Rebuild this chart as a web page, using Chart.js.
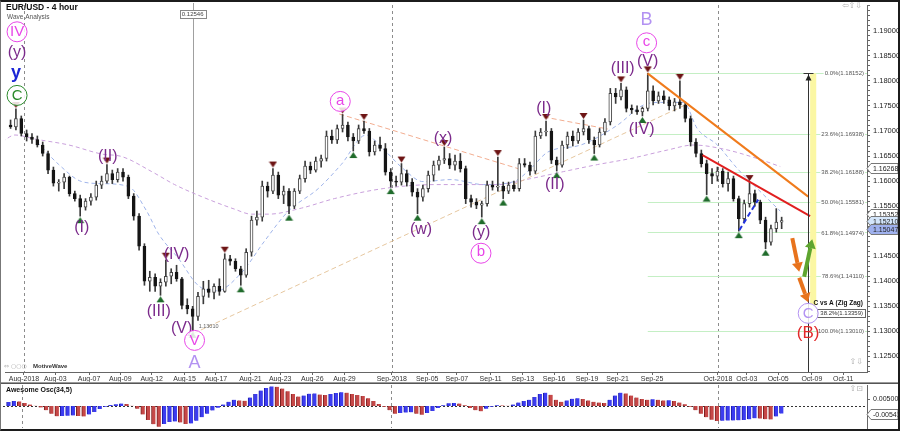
<!DOCTYPE html>
<html><head><meta charset="utf-8">
<script src="https://cdn.jsdelivr.net/npm/chart.js@4.4.1/dist/chart.umd.min.js"></script>
<style>
html,body{margin:0;padding:0;background:#fff;}
#wrap{position:relative;width:900px;height:431px;overflow:hidden;background:#fff;}
#c1{position:absolute;left:0;top:0;}
#c2{position:absolute;left:0;top:384px;}
#frame{position:absolute;left:0;top:0;width:897px;height:427px;border-top:2px solid #1c1c1c;border-right:2px solid #1c1c1c;border-bottom:2px solid #1c1c1c;border-left:1px solid #777;pointer-events:none;}
</style></head>
<body><div id="wrap"><canvas id="c1" width="900" height="384"></canvas><canvas id="c2" width="900" height="46"></canvas><div id="frame"></div></div>
<script>
// ---------------- DATA ----------------
const tickDays=[0,1.95,4.05,6,7.95,10,11.95,14.1,15.95,17.95,19.95,22.9,25.1,26.95,29.05,31.05,33,35.05,36.95,39.1,43.2,45,46.95,49.05,51];
const tickLabels=['Aug-2018','Aug-03','Aug-07','Aug-09','Aug-12','Aug-15','Aug-17','Aug-21','Aug-23','Aug-26','Aug-29','Sep-2018','Sep-05','Sep-07','Sep-11','Sep-13','Sep-16','Sep-19','Sep-21','Sep-25','Oct-2018','Oct-03','Oct-05','Oct-09','Oct-11'];
const monthStartDays=[0,22.9,43.2];

const open=[1.1712,1.1708,1.1725,1.1695,1.1688,1.1683,1.1672,1.1655,1.1622,1.1596,
1.1598,1.1608,1.1575,1.1565,1.1548,1.1560,1.1568,1.1592,1.1600,1.1615,
1.1603,1.1618,1.1608,1.1570,1.1530,1.1470,1.1400,1.1408,1.1390,1.1398,
1.1410,1.1418,1.1405,1.1352,1.1345,1.1330,1.1370,1.1385,1.1378,1.1390,
1.1380,1.1445,1.1440,1.1425,1.1412,1.1458,1.1522,1.1528,1.1590,1.1580,
1.1612,1.1572,1.1580,1.1550,1.1580,1.1605,1.1630,1.1622,1.1640,1.1645,
1.1690,1.1682,1.1705,1.1712,1.1688,1.1680,1.1705,1.1700,1.1658,1.1672,
1.1665,1.1618,1.1600,1.1598,1.1615,1.1598,1.1578,1.1568,1.1585,1.1612,
1.1632,1.1642,1.1645,1.1632,1.1640,1.1625,1.1565,1.1558,1.1552,1.1555,
1.1592,1.1588,1.1590,1.1580,1.1592,1.1585,1.1635,1.1632,1.1620,1.1690,
1.1698,1.1700,1.1642,1.1632,1.1672,1.1690,1.1680,1.1698,1.1705,1.1682,
1.1672,1.1698,1.1718,1.1775,1.1768,1.1782,1.1745,1.1742,1.1738,1.1745,
1.1780,1.1760,1.1770,1.1762,1.1750,1.1758,1.1752,1.1725,1.1678,1.1655,
1.1635,1.1615,1.1610,1.1620,1.1595,1.1605,1.1565,1.1525,1.1555,1.1575,
1.1558,1.1522,1.1478,1.1505,1.1518];
const high=[1.1722,1.1744,1.1730,1.1702,1.1695,1.1690,1.1678,1.1660,1.1628,1.1603,
1.1615,1.1610,1.1580,1.1572,1.1565,1.1575,1.1600,1.1610,1.1633,1.1622,
1.1625,1.1625,1.1612,1.1575,1.1535,1.1475,1.1420,1.1415,1.1405,1.1443,
1.1425,1.1432,1.1408,1.1365,1.1350,1.1378,1.1400,1.1402,1.1395,1.1405,
1.1455,1.1452,1.1445,1.1430,1.1465,1.1530,1.1540,1.1600,1.1598,1.1625,
1.1618,1.1590,1.1585,1.1585,1.1612,1.1640,1.1638,1.1648,1.1652,1.1700,
1.1702,1.1712,1.1733,1.1718,1.1695,1.1712,1.1720,1.1705,1.1680,1.1688,
1.1675,1.1625,1.1610,1.1635,1.1622,1.1605,1.1585,1.1592,1.1620,1.1640,
1.1650,1.1668,1.1655,1.1652,1.1655,1.1630,1.1572,1.1565,1.1560,1.1600,
1.1600,1.1648,1.1598,1.1598,1.1600,1.1645,1.1645,1.1638,1.1700,1.1705,
1.1720,1.1705,1.1648,1.1680,1.1698,1.1700,1.1705,1.1722,1.1710,1.1688,
1.1705,1.1725,1.1785,1.1785,1.1795,1.1788,1.1752,1.1750,1.1748,1.1815,
1.1790,1.1778,1.1780,1.1768,1.1765,1.1800,1.1758,1.1730,1.1685,1.1662,
1.1642,1.1625,1.1628,1.1625,1.1618,1.1610,1.1570,1.1562,1.1598,1.1582,
1.1562,1.1528,1.1512,1.1545,1.1528];
const low=[1.1705,1.1702,1.1690,1.1680,1.1675,1.1668,1.1650,1.1615,1.1590,1.1580,
1.1585,1.1570,1.1560,1.1530,1.1542,1.1552,1.1562,1.1585,1.1596,1.1595,
1.1598,1.1600,1.1565,1.1522,1.1462,1.1392,1.1380,1.1380,1.1372,1.1390,
1.1395,1.1400,1.1345,1.1335,1.1301,1.1322,1.1355,1.1368,1.1365,1.1372,
1.1378,1.1432,1.1420,1.1392,1.1408,1.1450,1.1512,1.1520,1.1568,1.1575,
1.1565,1.1555,1.1535,1.1545,1.1575,1.1598,1.1615,1.1618,1.1628,1.1640,
1.1675,1.1675,1.1698,1.1680,1.1660,1.1675,1.1695,1.1650,1.1652,1.1660,
1.1612,1.1588,1.1590,1.1592,1.1590,1.1570,1.1535,1.1560,1.1578,1.1600,
1.1622,1.1635,1.1625,1.1622,1.1618,1.1555,1.1548,1.1545,1.1528,1.1550,
1.1582,1.1580,1.1565,1.1575,1.1580,1.1580,1.1628,1.1612,1.1615,1.1685,
1.1690,1.1635,1.1620,1.1628,1.1665,1.1670,1.1675,1.1692,1.1675,1.1655,
1.1668,1.1692,1.1712,1.1755,1.1762,1.1738,1.1735,1.1733,1.1730,1.1740,
1.1752,1.1755,1.1755,1.1742,1.1740,1.1745,1.1718,1.1670,1.1648,1.1628,
1.1573,1.1595,1.1600,1.1588,1.1580,1.1560,1.1500,1.1518,1.1548,1.1550,
1.1515,1.1465,1.1472,1.1498,1.1505];
const close=[1.1708,1.1725,1.1695,1.1688,1.1683,1.1672,1.1655,1.1622,1.1596,1.1598,
1.1608,1.1575,1.1565,1.1548,1.1560,1.1568,1.1592,1.1600,1.1615,1.1603,
1.1618,1.1608,1.1570,1.1530,1.1470,1.1400,1.1408,1.1390,1.1398,1.1410,
1.1418,1.1405,1.1352,1.1345,1.1330,1.1370,1.1385,1.1378,1.1390,1.1380,
1.1445,1.1440,1.1425,1.1412,1.1458,1.1522,1.1528,1.1590,1.1580,1.1612,
1.1572,1.1580,1.1550,1.1580,1.1605,1.1630,1.1622,1.1640,1.1645,1.1690,
1.1682,1.1705,1.1712,1.1688,1.1680,1.1705,1.1700,1.1658,1.1672,1.1665,
1.1618,1.1600,1.1598,1.1615,1.1598,1.1578,1.1568,1.1585,1.1612,1.1632,
1.1642,1.1645,1.1632,1.1640,1.1625,1.1565,1.1558,1.1552,1.1555,1.1592,
1.1588,1.1590,1.1580,1.1592,1.1585,1.1635,1.1632,1.1620,1.1690,1.1698,
1.1700,1.1642,1.1632,1.1672,1.1690,1.1680,1.1698,1.1705,1.1682,1.1672,
1.1698,1.1718,1.1775,1.1768,1.1782,1.1745,1.1742,1.1738,1.1745,1.1780,
1.1760,1.1770,1.1762,1.1750,1.1758,1.1752,1.1725,1.1678,1.1655,1.1635,
1.1615,1.1610,1.1620,1.1595,1.1605,1.1565,1.1525,1.1555,1.1575,1.1558,
1.1522,1.1478,1.1505,1.1518,1.1521];
const ao=[0.0028,0.0035,0.0033,0.0022,0.0010,0.0002,-0.0010,-0.0030,-0.0055,-0.0074,
-0.0072,-0.0070,-0.0068,-0.0071,-0.0075,-0.0060,-0.0042,-0.0022,-0.0005,0.0008,
0.0013,0.0018,0.0014,0.0002,-0.0020,-0.0060,-0.0100,-0.0130,-0.0148,-0.0128,
-0.0115,-0.0110,-0.0118,-0.0128,-0.0125,-0.0105,-0.0080,-0.0055,-0.0032,-0.0012,
0.0010,0.0030,0.0045,0.0040,0.0037,0.0060,0.0085,0.0110,0.0128,0.0140,
0.0137,0.0125,0.0105,0.0085,0.0068,0.0075,0.0088,0.0090,0.0082,0.0078,
0.0085,0.0092,0.0098,0.0095,0.0085,0.0078,0.0072,0.0055,0.0035,0.0015,
-0.0005,-0.0030,-0.0055,-0.0050,-0.0047,-0.0045,-0.0055,-0.0062,-0.0050,-0.0035,
-0.0015,0.0005,0.0020,0.0022,0.0018,0.0005,-0.0015,-0.0030,-0.0038,-0.0020,
-0.0005,0.0005,0.0004,0.0002,0.0010,0.0025,0.0035,0.0045,0.0065,0.0085,
0.0095,0.0080,0.0045,0.0030,0.0040,0.0052,0.0055,0.0050,0.0040,0.0030,
0.0025,0.0022,0.0045,0.0075,0.0095,0.0090,0.0075,0.0060,0.0050,0.0045,
0.0048,0.0045,0.0040,0.0042,0.0035,0.0025,0.0012,-0.0005,-0.0030,-0.0055,
-0.0080,-0.0098,-0.0107,-0.0105,-0.0104,-0.0103,-0.0102,-0.0100,-0.0095,-0.0088,
-0.0090,-0.0094,-0.0096,-0.0075,-0.0054];

const maFastDays=[0.81,2.17,3.60,4.84,6.52,7.64,8.39,9.63,10.87,11.99,13.54,14.97,16.46,18.32,19.75,21.30,22.36,23.60,24.84,26.58,28.63,30.50,31.55,32.61,34.66,36.96,38.57,39.63,41.06,41.93,43.17,44.41,45.65,47.08];
const maFastVals=[1.1678,1.1633,1.1599,1.1595,1.1589,1.1540,1.1494,1.1445,1.1391,1.1381,1.1417,1.1480,1.1540,1.1585,1.1633,1.1692,1.1664,1.1625,1.1599,1.1603,1.1593,1.1599,1.1625,1.1658,1.1672,1.1712,1.1752,1.1757,1.1757,1.1704,1.1672,1.1625,1.1585,1.1540];
const maSlowDays=[-1.37,-0.56,0.68,2.80,4.84,6.09,7.95,9.38,11.06,13.11,14.16,15.22,17.27,19.32,22.36,25.65,29.50,31.55,33.60,35.71,37.76,40.06,41.68,43.54,45.65,47.08];
const maSlowVals=[1.1678,1.1692,1.1684,1.1672,1.1654,1.1649,1.1619,1.1593,1.1569,1.1544,1.1534,1.1534,1.1546,1.1565,1.1585,1.1593,1.1593,1.1605,1.1619,1.1633,1.1645,1.1662,1.1672,1.1664,1.1645,1.1629];

const pivotHighBars=[1,18,29,40,49,62,66,73,81,91,100,107,114,119,125,138];
const pivotLowBars=[13,28,34,43,52,64,71,76,88,92,102,109,118,130,136,141];

const fibLevels=[1.18152,1.16938,1.16188,1.15581,1.14974,1.14110,1.13010];
const fibNames=['0.0%','23.6%','38.2%','50.0%','61.8%','78.6%','100.0%'];
const targetName='38.2%', targetLevel=1.13359;
const priceTags=[1.16268,1.15352,1.15210,1.15047];
const aoTag=-0.00541;
const cursorValue='0.12546';

// trend lines [day1, price1, day2, price2]
const trendOrange=[38.82,1.1815,48.82,1.1569];
const trendRed=[42.24,1.1652,48.94,1.1530];
const trendBlueDash=[44.53,1.1502,45.71,1.1563];
const channelTan=[10.56,1.1296,41.24,1.1753];
const channelOrange1=[19.63,1.1734,30.75,1.1625];
const channelOrange2=[32.36,1.1728,36.34,1.1704];
const projDay=48.82;
const bandDays=[48.94,49.32];
const bandBottom=1.1352;
const arrowsOrange=[[47.83,1.1486,48.26,1.1419],[48.26,1.1407,48.82,1.1358]];
const arrowsGreen=[[48.57,1.1409,49.07,1.1484]];

// wave labels [text, day, price, kind]
const waveLabels=[
 ['IV',-0.43,1.1898,'circM'],['(y)',-0.43,1.1856,'rom'],['y',-0.5,1.1811,'blue'],['C',-0.43,1.1771,'circG'],
 ['(I)',3.6,1.1508,'rom'],['(II)',5.22,1.1649,'rom'],['(III)',8.39,1.1340,'rom'],['(IV)',9.5,1.1454,'rom'],
 ['(V)',9.81,1.1306,'rom'],['V',10.62,1.1282,'circM'],['A',10.62,1.1237,'big'],
 ['a',19.69,1.1759,'circM'],['(x)',26.09,1.1684,'rom'],['(w)',24.72,1.1504,'rom'],
 ['(y)',28.45,1.1498,'rom'],['b',28.45,1.1456,'circM'],
 ['(I)',32.36,1.1744,'rom'],['(II)',33.04,1.1593,'rom'],['(III)',37.27,1.1825,'rom'],
 ['(V)',38.82,1.1839,'rom'],['(IV)',38.45,1.1702,'rom'],['B',38.76,1.1922,'big'],['c',38.76,1.1876,'circM'],
 ['C',48.82,1.1336,'circL'],['(B)',48.82,1.1296,'red']
];

// ---------------- HELPERS ----------------
const X_MIN=-1.18, X_MAX=52.48, Y_MIN=1.12189, Y_MAX=1.19515;
const FONT="'Liberation Sans', Arial, sans-serif";
Chart.defaults.font.family=FONT;
function barDay(b){return -1+(b+0.5)/3;}
const aLowBar=34, fibStartBar=119;
function noPad(s){s.paddingTop=0;s.paddingBottom=0;s.paddingLeft=0;s.paddingRight=0;}

function triImg(down){
  const c=document.createElement('canvas');c.width=9;c.height=24;
  const g=c.getContext('2d');
  g.fillStyle=down?'#6d1414':'#1f6b2b';
  g.beginPath();
  if(down){g.moveTo(0.5,5);g.lineTo(8.5,5);g.lineTo(4.5,11);}
  else{g.moveTo(4.5,13);g.lineTo(8.5,19);g.lineTo(0.5,19);}
  g.closePath();g.fill();return c;
}
const downTri=triImg(true), upTri=triImg(false);

function seg(arr){return [{x:arr[0],y:arr[1]},{x:arr[2],y:arr[3]}];}
function lineDs(data,color,width,dash,order){
  return {type:'line',data:data,borderColor:color,borderWidth:width,borderDash:dash||[],pointRadius:0,fill:false,order:order,tension:0,clip:true};
}

function arrow(ctx,x1,y1,x2,y2,color){
  const ang=Math.atan2(y2-y1,x2-x1), L=9, W=5.5;
  const bx=x2-L*Math.cos(ang), by=y2-L*Math.sin(ang);
  ctx.strokeStyle=color;ctx.fillStyle=color;ctx.lineWidth=4;ctx.lineCap='butt';
  ctx.beginPath();ctx.moveTo(x1,y1);ctx.lineTo(bx,by);ctx.stroke();
  ctx.beginPath();ctx.moveTo(x2,y2);
  ctx.lineTo(bx+W*Math.sin(ang),by-W*Math.cos(ang));
  ctx.lineTo(bx-W*Math.sin(ang),by+W*Math.cos(ang));
  ctx.closePath();ctx.fill();
  ctx.lineWidth=1;
}

function tag(ctx,y,text,fill,stroke,txtColor){
  ctx.lineWidth=1;
  ctx.beginPath();
  ctx.moveTo(867,y);ctx.lineTo(871,y-5);ctx.lineTo(898,y-5);ctx.lineTo(898,y+5);ctx.lineTo(871,y+5);ctx.closePath();
  ctx.fillStyle=fill;ctx.fill();ctx.strokeStyle=stroke;ctx.stroke();
  ctx.fillStyle=txtColor;ctx.font='7px '+FONT;ctx.textAlign='left';ctx.textBaseline='middle';
  ctx.fillText(text,873,y+0.5);
}

// ---------------- MAIN CHART PLUGIN ----------------
const mainPlugin={
  id:'mainAnnot',
  beforeDatasetsDraw(chart){
    const {ctx,chartArea:a,scales:{x,y}}=chart;
    const X=v=>x.getPixelForValue(v), Y=v=>y.getPixelForValue(v);
    ctx.save();
    ctx.beginPath();ctx.rect(a.left,a.top-2,a.right-a.left,a.bottom-a.top+2);ctx.clip();
    ctx.lineWidth=1;ctx.strokeStyle='#8c8c8c';ctx.setLineDash([3,3]);
    monthStartDays.forEach(d=>{const p=Math.round(X(d))+0.5;ctx.beginPath();ctx.moveTo(p,a.top);ctx.lineTo(p,a.bottom);ctx.stroke();});
    ctx.setLineDash([]);
    const ax=Math.round(X(barDay(aLowBar)))+0.5;
    ctx.strokeStyle='#a0a0a0';ctx.beginPath();ctx.moveTo(ax,a.top-2);ctx.lineTo(ax,Y(low[aLowBar])+6);ctx.stroke();
    ctx.strokeStyle='#c4efc4';
    fibLevels.forEach(l=>{const p=Math.round(Y(l))+0.5;ctx.beginPath();ctx.moveTo(X(barDay(fibStartBar)),p);ctx.lineTo(a.right,p);ctx.stroke();});
    const bx0=X(bandDays[0]),bx1=X(bandDays[1]);
    ctx.fillStyle='#fbf7a3';ctx.fillRect(bx0,Y(fibLevels[0]),bx1-bx0,Y(bandBottom)-Y(fibLevels[0]));
    ctx.restore();
  },
  afterDatasetsDraw(chart){
    const {ctx,chartArea:a,scales:{x,y}}=chart;
    const X=v=>x.getPixelForValue(v), Y=v=>y.getPixelForValue(v);
    ctx.save();
    // projection vertical line
    const vx=Math.round(X(projDay))+0.5, vTop=Math.round(Y(fibLevels[0]))+0.5;
    ctx.strokeStyle='#333';ctx.lineWidth=1;
    ctx.beginPath();ctx.moveTo(vx,vTop);ctx.lineTo(vx,a.bottom);ctx.stroke();
    ctx.beginPath();ctx.moveTo(vx-5,vTop);ctx.lineTo(vx+5,vTop);ctx.stroke();
    ctx.fillStyle='#222';ctx.beginPath();ctx.moveTo(vx,vTop+1);ctx.lineTo(vx+3,vTop+7);ctx.lineTo(vx-3,vTop+7);ctx.closePath();ctx.fill();
    // arrows
    arrowsOrange.forEach(r=>arrow(ctx,X(r[0]),Y(r[1]),X(r[2]),Y(r[3]),'#e8731d'));
    arrowsGreen.forEach(r=>arrow(ctx,X(r[0]),Y(r[1]),X(r[2]),Y(r[3]),'#5ea52f'));
    ctx.lineWidth=1;
    // fib labels
    ctx.font='6px '+FONT;ctx.textAlign='right';ctx.textBaseline='middle';
    fibLevels.forEach((l,i)=>{
      const t=fibNames[i]+'('+l.toFixed(5)+')';const w=ctx.measureText(t).width;const py=Y(l);
      ctx.fillStyle='#fff';ctx.fillRect(864-w-1,py-3,w+2,6);
      ctx.fillStyle='#555';ctx.fillText(t,864,py+0.5);
    });
    // C vs A target
    const ty=Math.round(Y(targetLevel));
    ctx.strokeStyle='#888';ctx.beginPath();ctx.moveTo(X(bandDays[1]),ty+0.5);ctx.lineTo(824,ty+0.5);ctx.stroke();
    const tt=targetName+'('+targetLevel.toFixed(5)+')';
    ctx.font='6px '+FONT;const tw=Math.round(ctx.measureText(tt).width);
    ctx.fillStyle='#fff';ctx.fillRect(864-tw-4,ty-4,tw+5,9);
    ctx.strokeStyle='#666';ctx.strokeRect(864-tw-4+0.5,ty-4+0.5,tw+5,8);
    ctx.fillStyle='#333';ctx.textAlign='right';ctx.fillText(tt,863,ty+0.5);
    ctx.font='bold 6.5px '+FONT;ctx.fillStyle='#111';ctx.fillText('C vs A (Zig Zag)',863,ty-10);
    // A-low label
    ctx.font='5.5px '+FONT;ctx.textAlign='left';ctx.fillStyle='#666';
    ctx.fillText(low[aLowBar].toFixed(5),X(barDay(aLowBar))+6,Y(low[aLowBar])-4);
    // wave labels
    ctx.textAlign='center';ctx.textBaseline='middle';
    waveLabels.forEach(([t,d,p,k])=>{
      const px=X(d),py=Y(p);
      if(k==='rom'){ctx.font='16px '+FONT;ctx.fillStyle='#7b2a8b';ctx.fillText(t,px,py);}
      else if(k==='blue'){ctx.font='bold 18px '+FONT;ctx.fillStyle='#1b25d6';ctx.fillText(t,px,py-2);}
      else if(k==='big'){ctx.font='18px '+FONT;ctx.fillStyle='#b392f2';ctx.fillText(t,px,py);}
      else if(k==='red'){ctx.font='17px '+FONT;ctx.fillStyle='#e22a2a';ctx.fillText(t,px,py);}
      else{
        const col=k==='circM'?'#e846e8':(k==='circG'?'#2b8a2b':'#b392f2');
        ctx.fillStyle='rgba(255,255,255,0.85)';ctx.beginPath();ctx.arc(px,py,10,0,Math.PI*2);ctx.fill();
        ctx.strokeStyle=col;ctx.lineWidth=1;ctx.beginPath();ctx.arc(px,py,10,0,Math.PI*2);ctx.stroke();
        ctx.fillStyle=col;ctx.font='15px '+FONT;ctx.fillText(t,px,py+(t===t.toLowerCase()?-1:0.5));
      }
    });
    // cursor value box
    const cx=X(barDay(aLowBar));
    ctx.font='6px '+FONT;const cw=Math.round(ctx.measureText(cursorValue).width);
    ctx.fillStyle='#fff';ctx.fillRect(Math.round(cx-cw/2-2),10,cw+4,8);
    ctx.strokeStyle='#888';ctx.strokeRect(Math.round(cx-cw/2-2)+0.5,10.5,cw+4,8);
    ctx.fillStyle='#444';ctx.textAlign='center';ctx.fillText(cursorValue,cx,14.5);
    // title
    ctx.textAlign='left';ctx.fillStyle='#111';ctx.font='bold 8.5px '+FONT;ctx.fillText('EUR/USD - 4 hour',6,8);
    ctx.font='6.5px '+FONT;ctx.fillStyle='#555';ctx.fillText('Wave Analysis',7,17);
    // watermark
    ctx.font='6px DejaVu Sans';ctx.fillStyle='#aaa';ctx.fillText('⇔ ○○○',4,366);
    ctx.font='bold 6px '+FONT;ctx.fillStyle='#333';ctx.fillText('MotiveWave',33,366);
    ctx.font='8px DejaVu Sans';ctx.fillStyle='#b0b0b0';ctx.textAlign='right';
    ctx.fillText('⇦⇧⇩',862,6);ctx.fillText('⇧⇩',863,362);
    ctx.restore();
  },
  afterDraw(chart){
    const {ctx,scales:{y}}=chart;
    ctx.save();
    const fills=['#ffffff','#ffffff','#d4e6fb','#9fb1ee'];
    priceTags.forEach((p,i)=>tag(ctx,Math.round(y.getPixelForValue(p))+0.5,p.toFixed(5),fills[i],'#777','#222'));
    ctx.strokeStyle='#9a9a9a';ctx.lineWidth=1;
    ctx.beginPath();ctx.moveTo(0,382.5);ctx.lineTo(900,382.5);ctx.stroke();
    ctx.strokeStyle='#555';
    ctx.beginPath();ctx.moveTo(0,383.5);ctx.lineTo(900,383.5);ctx.stroke();
    ctx.restore();
  }
};

// ---------------- MAIN CHART ----------------
const yTicks=[];for(let k=1122;k<=1195;k++)yTicks.push(k/1000);
new Chart(document.getElementById('c1'),{
  type:'bar',
  data:{datasets:[
    Object.assign(lineDs(maSlowDays.map((d,i)=>({x:d,y:maSlowVals[i]})),'#c9a0dc',1,[4,3],9),{cubicInterpolationMode:'monotone'}),
    Object.assign(lineDs(maFastDays.map((d,i)=>({x:d,y:maFastVals[i]})),'#9fb4ea',1,[4,3],9),{cubicInterpolationMode:'monotone'}),
    lineDs(seg(channelTan),'#e6c79f',1,[5,3],8),
    lineDs(seg(channelOrange1),'#f2ad90',1,[5,3],8),
    lineDs(seg(channelOrange2),'#f2ad90',1,[5,3],8),
    {type:'bar',grouped:false,order:4,barThickness:1,data:high.map((h,i)=>({x:barDay(i),y:[low[i],h]})),backgroundColor:'#3a3a3a',borderWidth:0},
    {type:'bar',grouped:false,order:3,barThickness:3,minBarLength:1,data:open.map((o,i)=>({x:barDay(i),y:[o,close[i]]})),
      backgroundColor:c=>close[c.dataIndex]>=open[c.dataIndex]?'#ffffff':'#151515',
      borderColor:c=>close[c.dataIndex]>=open[c.dataIndex]?'#444':'#151515',borderWidth:1,borderSkipped:false},
    lineDs(seg(trendOrange),'#f07b1c',2,[],2),
    lineDs(seg(trendRed),'#e11f1f',2,[],2),
    lineDs(seg(trendBlueDash),'#2233dd',2,[5,3],2),
    {type:'line',showLine:false,order:1,data:pivotHighBars.map(b=>({x:barDay(b),y:high[b]})),pointStyle:downTri,pointRadius:4},
    {type:'line',showLine:false,order:1,data:pivotLowBars.map(b=>({x:barDay(b),y:low[b]})),pointStyle:upTri,pointRadius:4}
  ]},
  options:{
    responsive:false,animation:false,devicePixelRatio:1,events:[],
    layout:{padding:{left:3,top:2,right:0,bottom:0}},
    plugins:{legend:{display:false},tooltip:{enabled:false}},
    scales:{
      x:{type:'linear',min:X_MIN,max:X_MAX,offset:false,
        afterFit(s){s.height=12;noPad(s);},
        afterBuildTicks(s){s.ticks=tickDays.map(v=>({value:v}));},
        ticks:{autoSkip:false,maxRotation:0,minRotation:0,padding:0,color:'#333',font:{size:7},callback:(v,i)=>tickLabels[i]},
        grid:{drawOnChartArea:false,offset:false,tickLength:3,color:'#666'},
        border:{color:'#666'}},
      y:{position:'right',min:Y_MIN,max:Y_MAX,
        afterFit(s){s.width=33;noPad(s);},
        afterBuildTicks(s){s.ticks=yTicks.map(v=>({value:v}));},
        ticks:{autoSkip:false,padding:3,color:'#222',font:{size:7.5},
          callback:v=>(Math.round(v*1000)%5===0&&v<1.1925)?v.toFixed(5):''},
        grid:{drawOnChartArea:false,tickLength:3,color:'#666'},
        border:{color:'#666'}}
    }
  },
  plugins:[mainPlugin]
});

// ---------------- AO CHART ----------------
const aoPlugin={
  id:'aoAnnot',
  beforeDatasetsDraw(chart){
    const {ctx,chartArea:a,scales:{x,y}}=chart;
    ctx.save();
    ctx.lineWidth=1;ctx.strokeStyle='#8c8c8c';ctx.setLineDash([3,3]);
    monthStartDays.forEach(d=>{const p=Math.round(x.getPixelForValue(d))+0.5;ctx.beginPath();ctx.moveTo(p,a.top);ctx.lineTo(p,a.bottom);ctx.stroke();});
    ctx.strokeStyle='#333';ctx.setLineDash([2,2]);
    const zy=Math.round(y.getPixelForValue(0))+0.5;
    ctx.beginPath();ctx.moveTo(a.left,zy);ctx.lineTo(a.right,zy);ctx.stroke();
    ctx.restore();
  },
  afterDraw(chart){
    const {ctx,scales:{y}}=chart;
    ctx.save();
    ctx.font='bold 7px '+FONT;ctx.fillStyle='#111';ctx.textAlign='left';ctx.textBaseline='middle';
    ctx.fillText('Awesome Osc(34,5)',6,6);
    ctx.font='8px DejaVu Sans';ctx.fillStyle='#b0b0b0';ctx.textAlign='right';ctx.fillText('⇧⊡',863,5);
    tag(ctx,Math.round(y.getPixelForValue(aoTag))+0.5,aoTag.toFixed(5),'#ffffff','#777','#222');
    ctx.restore();
  }
};
new Chart(document.getElementById('c2'),{
  type:'bar',
  data:{datasets:[{type:'bar',grouped:false,barThickness:4,data:ao.map((v,i)=>({x:barDay(i),y:v})),
    backgroundColor:c=>(c.dataIndex===0||ao[c.dataIndex]>ao[c.dataIndex-1])?'#3c3cf0':'#c64848',
    borderColor:c=>(c.dataIndex===0||ao[c.dataIndex]>ao[c.dataIndex-1])?'#1c1ca8':'#7a2020',
    borderWidth:{left:1,right:0,top:0,bottom:0},borderSkipped:false}]},
  options:{
    responsive:false,animation:false,devicePixelRatio:1,events:[],
    layout:{padding:{left:3,top:1,right:0,bottom:2}},
    plugins:{legend:{display:false},tooltip:{enabled:false}},
    scales:{
      x:{type:'linear',min:X_MIN,max:X_MAX,offset:false,display:false},
      y:{position:'right',min:-0.0157,max:0.015,
        afterFit(s){s.width=33;noPad(s);},
        afterBuildTicks(s){s.ticks=[{value:0.005}];},
        ticks:{autoSkip:false,padding:3,color:'#222',font:{size:7},callback:v=>v.toFixed(5)},
        grid:{drawOnChartArea:false,tickLength:3,color:'#666'},
        border:{color:'#666'}}
    }
  },
  plugins:[aoPlugin]
});
</script>
</body></html>
